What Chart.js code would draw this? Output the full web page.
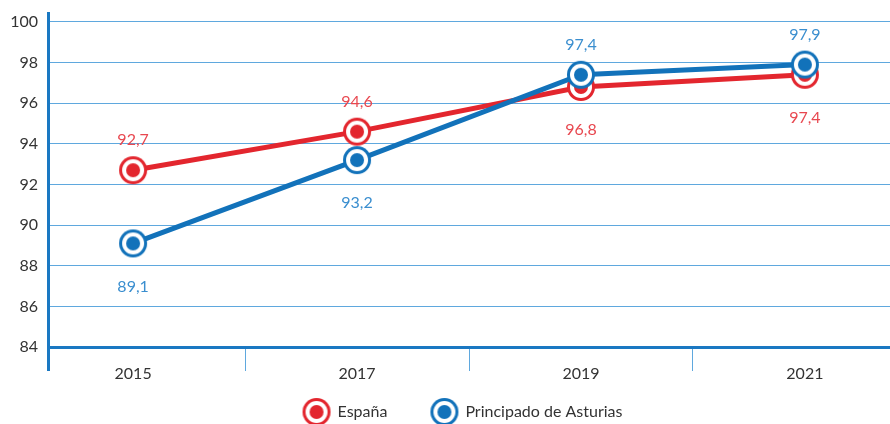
<!DOCTYPE html>
<html>
<head>
<meta charset="utf-8">
<script src="https://cdn.jsdelivr.net/npm/chart.js@4"></script>
<style>
  html, body { margin: 0; padding: 0; background: #ffffff; }
  #wrap { width: 890px; height: 424px; }
</style>
</head>
<body>
<div id="wrap"><canvas id="c" width="890" height="424"></canvas></div>
<script>
const categories = ['2015', '2017', '2019', '2021'];
const espana = [92.7, 94.6, 96.8, 97.4];
const asturias = [89.1, 93.2, 97.4, 97.9];
const yTicks = [84, 86, 88, 90, 92, 94, 96, 98, 100];
const seriesNames = ['España', 'Principado de Asturias'];
const espanaLabelSide = ['above', 'above', 'below', 'below'];
const asturiasLabelSide = ['below', 'below', 'above', 'above'];

const RED = '#e3262e';
const RED_TXT = '#e8474f';
const BLUE = '#1272ba';
const BLUE_TXT = '#3a8ecf';
const AXIS = '#1a78c2';
const GRID = '#5fa8de';
const CLEAR = 'rgba(0,0,0,0)';
const FONT = 'Lato, "Open Sans", sans-serif';

function marker(color) {
  const c = document.createElement('canvas');
  c.width = 30; c.height = 30;
  const g = c.getContext('2d');
  g.fillStyle = color;
  g.beginPath(); g.arc(15, 15, 14, 0, Math.PI * 2); g.fill();
  g.fillStyle = '#ffffff';
  g.beginPath(); g.arc(15, 15, 11, 0, Math.PI * 2); g.fill();
  g.fillStyle = color;
  g.beginPath(); g.arc(15, 15, 7, 0, Math.PI * 2); g.fill();
  return c;
}

const toPoints = arr => arr.map((v, i) => ({ x: i, y: v }));
const fmt = v => v.toFixed(1).replace('.', ',');

const valueLabels = {
  id: 'valueLabels',
  afterDatasetsDraw(chart) {
    const ctx = chart.ctx;
    ctx.save();
    ctx.font = '16px ' + FONT;
    ctx.textAlign = 'center';
    ctx.textBaseline = 'middle';
    chart.data.datasets.forEach((ds, di) => {
      const meta = chart.getDatasetMeta(di);
      meta.data.forEach((pt, i) => {
        const side = ds.labelSide[i];
        const y = side === 'above' ? pt.y - 30 : pt.y + 43;
        ctx.fillStyle = ds.labelColor;
        ctx.fillText(fmt(ds.data[i].y), pt.x, y);
      });
    });
    ctx.restore();
  }
};

const xMin = -0.38, xMax = 3.38;

new Chart(document.getElementById('c'), {
  type: 'line',
  data: {
    datasets: [
      {
        label: seriesNames[0],
        data: toPoints(espana),
        borderColor: RED,
        backgroundColor: RED,
        borderWidth: 5,
        pointStyle: marker(RED),
        labelColor: RED_TXT,
        labelSide: espanaLabelSide,
        order: 1
      },
      {
        label: seriesNames[1],
        data: toPoints(asturias),
        borderColor: BLUE,
        backgroundColor: BLUE,
        borderWidth: 5,
        pointStyle: marker(BLUE),
        labelColor: BLUE_TXT,
        labelSide: asturiasLabelSide,
        order: 0
      }
    ]
  },
  options: {
    responsive: false,
    animation: false,
    devicePixelRatio: 1,
    events: [],
    layout: { autoPadding: false, padding: { top: 13, left: 0, right: 0, bottom: -6 } },
    elements: { line: { tension: 0 }, point: { radius: 14, hoverRadius: 14 } },
    scales: {
      x: {
        type: 'linear',
        min: xMin,
        max: xMax,
        afterBuildTicks(scale) {
          const t = [xMin];
          categories.forEach((c, i) => { t.push(i); if (i < categories.length - 1) t.push(i + 0.5); });
          t.push(xMax);
          scale.ticks = t.map(v => ({ value: v }));
        },
        afterFit(scale) { scale.height = 37; },
        ticks: {
          autoSkip: false,
          maxRotation: 0,
          padding: -7,
          color: '#333333',
          font: { family: FONT, size: 16 },
          callback(v) { return Number.isInteger(v) ? categories[v] : ''; }
        },
        grid: {
          drawOnChartArea: false,
          drawTicks: true,
          tickLength: 24,
          color(ctx) {
            const v = ctx.tick ? ctx.tick.value : 0;
            if (v === xMin) return AXIS;
            if (v === xMax) return CLEAR;
            return Number.isInteger(v) ? CLEAR : GRID;
          },
          lineWidth(ctx) {
            const v = ctx.tick ? ctx.tick.value : 0;
            return v === xMin ? 3 : 1;
          }
        },
        border: { display: true, color: AXIS, width: 3 }
      },
      y: {
        min: 84,
        max: 100.44,
        afterBuildTicks(scale) { scale.ticks = yTicks.map(v => ({ value: v })); },
        afterFit(scale) { scale.width = 48; },
        ticks: {
          padding: 0,
          color: '#333333',
          font: { family: FONT, size: 16 },
          callback(v) { return String(v); }
        },
        grid: {
          drawTicks: true,
          tickLength: 10,
          tickColor: CLEAR,
          color(ctx) { return ctx.tick && ctx.tick.value === 84 ? CLEAR : GRID; },
          lineWidth: 1
        },
        border: { display: true, color: AXIS, width: 3 }
      }
    },
    plugins: {
      tooltip: { enabled: false },
      legend: {
        position: 'bottom',
        fullSize: false,
        labels: {
          usePointStyle: true,
          pointStyleWidth: 26,
          padding: 20,
          color: '#333333',
          font: { family: FONT, size: 16 },
          sort: (a, b) => a.datasetIndex - b.datasetIndex,
          generateLabels(chart) {
            const items = Chart.defaults.plugins.legend.labels.generateLabels(chart);
            items.sort((a, b) => a.datasetIndex - b.datasetIndex);
            items.forEach((it, i) => { it.text = it.text + (i < items.length - 1 ? '\u2003\u2003' : '\u2003'); });
            return items;
          }
        }
      }
    }
  },
  plugins: [valueLabels]
});
</script>
</body>
</html>
